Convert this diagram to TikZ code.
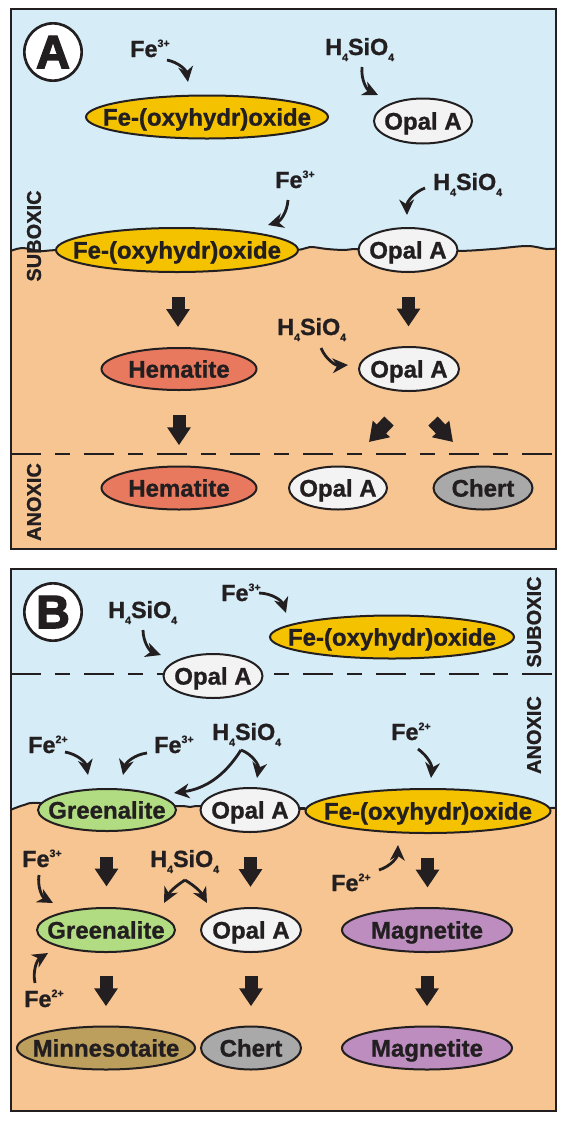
\documentclass[tikz,border=0pt]{standalone}
\usepackage{fontspec}
\setmainfont{Liberation Sans}
\newfontface\heavyfont{Liberation Sans Bold}[FakeBold=3]
\newfontface\boldtext{Liberation Sans Bold}[FakeBold=1]
\usetikzlibrary{shapes.geometric,arrows.meta,calc}
\definecolor{sky}{HTML}{D6EDF8}
\definecolor{sand}{HTML}{F6C592}
\definecolor{ink}{HTML}{231F20}
\definecolor{feox}{HTML}{F5C200}
\definecolor{hema}{HTML}{E8795F}
\definecolor{opal}{HTML}{F3F3F3}
\definecolor{chertc}{HTML}{A9A9A9}
\definecolor{grnl}{HTML}{B2DC82}
\definecolor{magn}{HTML}{BC8DBE}
\definecolor{minn}{HTML}{BD9F5D}
\newcommand{\sups}[1]{\raisebox{7.5pt}{\fontsize{8}{8}\selectfont #1}}
\newcommand{\subs}[1]{\raisebox{-4.5pt}{\fontsize{8}{8}\selectfont #1}}
\newcommand{\hsio}{H\subs{4}SiO\subs{4}}
\newcommand{\mn}[7]{\node[mineral, fill=#6, minimum width=#4*0.75pt, minimum height=#5*0.75pt, label={[mtext]center:#7}] (#1) at (#2,#3) {};}
\tikzset{
  mineral/.style={ellipse, draw=ink, line width=1.5pt, inner sep=0pt},
  mtext/.style={font=\boldtext\fontsize{18}{18}\selectfont, text=ink, inner sep=0pt, text height=12.9pt, text depth=0pt},
  lab/.style={font=\boldtext\fontsize{17.5}{17.5}\selectfont, text=ink, inner sep=0pt, anchor=base west},
  zone/.style={font=\boldtext\fontsize{15}{15}\selectfont, text=ink, rotate=90, inner sep=0pt},
  curv/.style={draw=ink, line width=2.1pt, -{Stealth[length=11.5pt,width=11pt,inset=3.5pt]}},
  blk/.style={draw=ink, line width=9.75pt, -{Triangle[length=13.5pt,width=17pt]}},
  zoneline/.style={draw=ink, line width=1.6pt, dash pattern=on 22.5pt off 10.5pt on 11.25pt off 10.5pt},
  surf/.style={draw=ink, line width=1.5pt},
  frame/.style={draw=ink, line width=2.2pt},
  badge/.style={circle, draw=ink, line width=2pt, fill=white, minimum size=43pt, inner sep=0pt},
  badgetext/.style={font=\heavyfont\fontsize{35}{35}\selectfont, text=ink, inner sep=0pt}
}
\begin{document}
\begin{tikzpicture}[x=0.75pt,y=-0.75pt]
\useasboundingbox (0,0) rectangle (565,1125);
% ---------------- Panel A background
\begin{scope}
\clip (11,9) rectangle (556,549);
\fill[sky] (11,9) rectangle (556,549);
\fill[sand] plot[smooth,tension=0.6] coordinates {(8,252) (22,248) (40,251) (60,250) (120,250) (240,250) (295,250) (310,247) (327,249) (345,250) (358,249) (408,250) (457,251) (493,249) (527,246) (547,249) (560,248)} -- (560,552) -- (8,552) -- cycle;
\draw[surf] plot[smooth,tension=0.6] coordinates {(8,252) (22,248) (40,251) (60,250) (120,250) (240,250) (295,250) (310,247) (327,249) (345,250) (358,249) (408,250) (457,251) (493,249) (527,246) (547,249) (560,248)};
\draw[zoneline] (11,454) -- (556,454);
\end{scope}
\node[zone] (subA) at (34,236) {SUBOXIC};
\node[zone] (anoA) at (34,502) {ANOXIC};
% ---------------- Panel B background
\begin{scope}
\clip (11,569) rectangle (556,1111);
\fill[sky] (11,569) rectangle (556,1111);
\fill[sand] plot[smooth,tension=0.6] coordinates {(8,811) (24,805) (40,803) (107,808) (176,806) (190,807) (201,806) (250,808) (300,808) (306,809) (428,810) (551,808) (560,807)} -- (560,1114) -- (8,1114) -- cycle;
\draw[surf] plot[smooth,tension=0.6] coordinates {(8,811) (24,805) (40,803) (107,808) (176,806) (190,807) (201,806) (250,808) (300,808) (306,809) (428,810) (551,808) (560,807)};
\draw[zoneline] (11,674) -- (556,674);
\end{scope}
\node[zone] (subB) at (534,622) {SUBOXIC};
\node[zone] (anoB) at (534,735) {ANOXIC};
% ---------------- badges
\node[badge, label={[badgetext]center:A}] (cA) at (53,52) {};
\node[badge, label={[badgetext]center:B}] (cB) at (53,612) {};
% ---------------- Panel A minerals
\mn{feA1}{207}{117}{242}{43}{feox}{Fe-(oxyhydr)oxide}
\mn{opA1}{423}{121}{98}{45}{opal}{Opal A}
\mn{feA2}{177}{250}{242}{44}{feox}{Fe-(oxyhydr)oxide}
\mn{opA2}{408}{250}{99}{44}{opal}{Opal A}
\mn{hemA1}{179}{369}{155}{42}{hema}{Hematite}
\mn{opA3}{409}{369}{100}{44}{opal}{Opal A}
\mn{hemA2}{179}{488}{155}{43}{hema}{Hematite}
\mn{opA4}{338}{488}{98}{43}{opal}{Opal A}
\mn{chA}{483}{488}{99}{43}{chertc}{Chert}
% ---------------- Panel B minerals
\mn{feB1}{392}{637}{244}{43}{feox}{Fe-(oxyhydr)oxide}
\mn{opB1}{213}{676}{99}{44}{opal}{Opal A}
\mn{grB1}{107}{810}{138}{42}{grnl}{Greenalite}
\mn{opB2}{250}{810}{99}{44}{opal}{Opal A}
\mn{feB2}{428}{811}{245}{44}{feox}{Fe-(oxyhydr)oxide}
\mn{grB2}{106}{930}{138}{44}{grnl}{Greenalite}
\mn{opB3}{251}{930}{100}{44}{opal}{Opal A}
\mn{mgB1}{427}{930}{170}{44}{magn}{Magnetite}
\mn{mnB}{106}{1048}{178}{43}{minn}{Minnesotaite}
\mn{chB}{251}{1048}{100}{43}{chertc}{Chert}
\mn{mgB2}{427}{1048}{170}{43}{magn}{Magnetite}
% ---------------- labels
\node[lab] (l1) at (130,57) {Fe\sups{3+}};
\node[lab] (l2) at (325,55) {\hsio};
\node[lab] (l3) at (275,188) {Fe\sups{3+}};
\node[lab] (l4) at (433,190) {\hsio};
\node[lab] (l5) at (277,335) {\hsio};
\node[lab] (l6) at (108,618) {\hsio};
\node[lab] (l7) at (221,601) {Fe\sups{3+}};
\node[lab] (l8) at (28,753) {Fe\sups{2+}};
\node[lab] (l9) at (154,753) {Fe\sups{3+}};
\node[lab] (l10) at (212,740) {\hsio};
\node[lab] (l11) at (391,740) {Fe\sups{2+}};
\node[lab] (l12) at (22,867) {Fe\sups{3+}};
\node[lab] (l13) at (150,867) {\hsio};
\node[lab] (l14) at (331,891) {Fe\sups{2+}};
\node[lab] (l15) at (24,1007) {Fe\sups{2+}};
% ---------------- curved arrows
\draw[curv] ($(l1.base west)+(37,3)$) to[bend left=35] ($(feA1.center)+(-19,-35)$);
\draw[curv] ($(l2.base west)+(37,12)$) to[bend right=35] ($(opA1.center)+(-45,-26)$);
\draw[curv] ($(l3.base west)+(13,12)$) to[bend left=35] ($(feA2.center)+(91,-25)$);
\draw[curv] ($(l4.base west)+(-8,-2)$) to[bend right=35] ($(opA2.center)+(-1,-35)$);
\draw[curv] ($(l5.base west)+(44,13)$) to[bend right=35] ($(opA3.center)+(-61,-4)$);
\draw[curv] ($(l6.base west)+(35,12)$) to[bend right=35] ($(opB1.center)+(-52,-21)$);
\draw[curv] ($(l7.base west)+(38,-8)$) to[bend left=35] ($(feB1.center)+(-106,-24)$);
\draw[curv] ($(l8.base west)+(37,-1)$) to[bend left=35] ($(grB1.center)+(-19,-35)$);
\draw[curv] ($(l9.base west)+(-7,0)$) to[bend right=35] ($(grB1.center)+(16,-35)$);
\draw[curv] ($(l10.base west)+(29,10)$) to[bend left=25] ($(grB1.center)+(67,-17)$);
\draw[curv] ($(l10.base west)+(29,10)$) to[bend left=40] ($(opB2.center)+(7,-32)$);
\draw[curv] ($(l11.base west)+(27,9)$) to[bend left=30] ($(feB2.center)+(3,-33)$);
\draw[curv] ($(l12.base west)+(17,8)$) to[bend right=35] ($(grB2.center)+(-53,-27)$);
\draw[curv] ($(l13.base west)+(35,13)$) to[bend right=15] ($(grB2.center)+(58,-27)$);
\draw[curv] ($(l13.base west)+(35,13)$) to[bend left=15] ($(opB3.center)+(-44,-27)$);
\draw[curv] ($(l14.base west)+(48,-21)$) to[bend right=35] ($(feB2.center)+(-30,34)$);
\draw[curv] ($(l15.base west)+(11,-24)$) to[bend left=35] ($(grB2.center)+(-58,23)$);
% ---------------- block arrows
\draw[blk] ($(feA2.south)!0.5!(hemA1.north)+(0,-13)$) -- ++(0,30);
\draw[blk] ($(opA2.south)!0.5!(opA3.north)+(0,-13)$) -- ++(0,30);
\draw[blk] ($(hemA1.south)!0.5!(hemA2.north)+(0,-13)$) -- ++(0,30);
\draw[blk] ($(opA3.south)+(-20,29)$) -- ($(opA3.south)+(-40,50)$);
\draw[blk] ($(opA3.south)+(24,29)$) -- ($(opA3.south)+(44,50)$);
\draw[blk] ($(grB1.south)!0.5!(grB2.north)+(0,-13)$) -- ++(0,30);
\draw[blk] ($(opB2.south)!0.5!(opB3.north)+(0,-13)$) -- ++(0,30);
\draw[blk] ($(feB2.south)!0.5!(mgB1.north)+(0,-13)$) -- ++(0,30);
\draw[blk] ($(grB2.south)!0.5!(mnB.north)+(0,-13)$) -- ++(0,30);
\draw[blk] ($(opB3.south)!0.5!(chB.north)+(0,-13)$) -- ++(0,30);
\draw[blk] ($(mgB1.south)!0.5!(mgB2.north)+(0,-13)$) -- ++(0,30);
% ---------------- frames
\draw[frame] (11,9) rectangle (556,549);
\draw[frame] (11,569) rectangle (556,1111);
\end{tikzpicture}
\end{document}
